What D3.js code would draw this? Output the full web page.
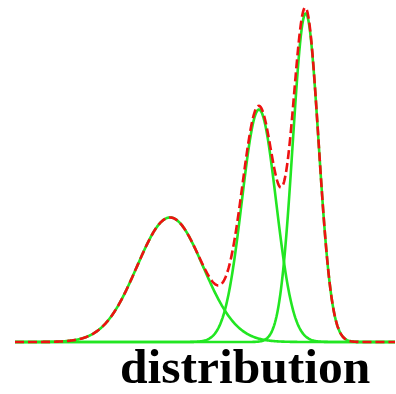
<!DOCTYPE html>
<html>
<head>
<meta charset="utf-8">
<script src="https://cdn.jsdelivr.net/npm/d3@7"></script>
<style>
  html, body { margin: 0; padding: 0; background: #fff; }
  svg { display: block; }
</style>
</head>
<body>
<svg id="chart" width="396" height="394"></svg>
<script>
// Three Gaussian components of the mixture
const componentNames = ["low", "mid", "high"];
const means = [4.08, 6.42, 7.65];
const sigmas = [0.87, 0.45, 0.34];
const amplitudes = [0.375, 0.70, 0.99];
const xDomain = [0, 10];
const yDomain = [0, 1];
const label = "distribution";

const svg = d3.select("#chart");
const x = d3.scaleLinear().domain(xDomain).range([15, 395]);
const y = d3.scaleLinear().domain(yDomain).range([342, 10]);

const xs = d3.range(xDomain[0], xDomain[1] + 1e-9, 0.02);
const gauss = (v, i) => amplitudes[i] * Math.exp(-((v - means[i]) ** 2) / (2 * sigmas[i] ** 2));

const line = d3.line().x(d => x(d[0])).y(d => y(d[1]));

// individual components
componentNames.forEach((name, i) => {
  svg.append("path")
    .attr("class", "component " + name)
    .datum(xs.map(v => [v, gauss(v, i)]))
    .attr("fill", "none")
    .attr("stroke", "#22e622")
    .attr("stroke-width", 2.6)
    .attr("stroke-linejoin", "round")
    .attr("d", line);
});

// summed mixture density
svg.append("path")
  .datum(xs.map(v => [v, d3.sum(means, (m, i) => gauss(v, i))]))
  .attr("fill", "none")
  .attr("stroke", "#ee1111")
  .attr("stroke-width", 2.6)
  .attr("stroke-dasharray", "9,4")
  .attr("d", line);

svg.append("text")
  .attr("x", 120)
  .attr("y", 383)
  .attr("font-family", "'Liberation Serif', 'Times New Roman', serif")
  .attr("font-weight", "bold")
  .attr("font-size", 49.5)
  .attr("fill", "#000")
  .text(label);
</script>
</body>
</html>
